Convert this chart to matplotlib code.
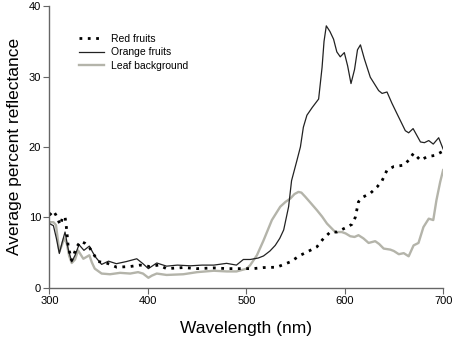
import numpy as np
import matplotlib
matplotlib.use("Agg")
import matplotlib.pyplot as plt

plt.rcParams['font.family'] = ['Liberation Sans', 'DejaVu Sans']

# ---- data ----
orange_nm = [300, 304, 307, 310, 313, 315.8, 319, 322.6, 326, 330, 335, 340.5, 344, 347, 353,
             360, 368, 378, 388.7, 395, 400.5, 409, 419, 430, 443, 455, 467, 480, 490,
             497, 504, 512, 517.5, 524, 529.4, 534, 538, 543, 546, 551.5, 555, 558,
             561.6, 567, 573.5, 577, 579, 581.3, 585, 588.7, 592, 595.5, 599.6, 603,
             606.4, 610, 613, 616, 620, 626, 634.5, 638, 643, 648, 653.2, 661.6, 665,
             669.5, 677, 681, 685.4, 690, 695.5, 700]
orange_val = [9.1, 8.8, 7.0, 4.85, 6.5, 7.9, 5.5, 3.66, 4.6, 6.1, 5.3, 5.9, 5.0, 4.3, 3.3,
              3.76, 3.4, 3.7, 4.1, 3.4, 2.7, 3.5, 3.05, 3.2, 3.1, 3.2, 3.2, 3.45, 3.2,
              4.0, 4.0, 4.2, 4.5, 5.2, 6.0, 7.0, 8.2, 11.5, 15.2, 18.1, 20.0, 22.8,
              24.5, 25.6, 26.8, 31.3, 35.0, 37.2, 36.4, 35.3, 33.5, 32.8, 33.4, 31.5,
              29.0, 31.0, 33.8, 34.5, 32.5, 29.9, 28.0, 27.6, 27.8, 26.2, 24.7, 22.3, 22.0,
              22.6, 20.7, 20.6, 20.9, 20.4, 21.3, 19.7]

red_nm = [300, 304, 306.6, 311, 313.4, 315.8, 317.5, 319, 322.6, 327.7, 331.7, 336, 341,
          349.6, 358, 368.4, 382, 392, 402, 410.7, 419, 436, 450, 467, 480.6, 494, 507,
          517.5, 531, 544.7, 555, 565, 571.8, 578.5, 585.4, 592, 602.3, 607.4, 610.8,
          614, 619, 626, 632.9, 638, 643, 649.8, 660, 665, 670, 677, 683.7, 692, 700]
red_val = [10.3, 10.9, 10.3, 8.9, 10.0, 10.1, 8.2, 5.8, 3.9, 5.8, 6.6, 6.3, 5.6,
           3.7, 3.5, 2.9, 3.0, 3.2, 3.0, 3.2, 2.7, 2.85, 2.7, 2.8, 2.7, 2.7, 2.7,
           2.85, 2.9, 3.66, 4.6, 5.3, 5.8, 7.0, 7.9, 7.9, 8.6, 9.0, 10.0,
           12.2, 12.9, 13.4, 14.3, 15.2, 16.7, 17.2, 17.4, 18.1, 19.1, 18.1, 18.6, 18.8, 19.4]

leaf_nm = [300, 304, 306.6, 310, 312.5, 314.8, 317.5, 320, 322.6, 326, 329, 334.4, 340.5,
           343, 346, 353, 361.5, 371.7, 382, 390, 395, 400.5, 404, 409, 419, 436, 450,
           467, 480, 490, 500.6, 504, 510.8, 517.5, 526, 534.5, 540, 544.7, 549, 553,
           556, 560, 565, 571.8, 577, 582, 590.4, 597, 601, 605.7, 610, 614, 619, 624.3,
           631, 635, 639.6, 646.4, 650, 655, 660, 665, 670, 675, 680, 685.4, 690,
           693.2, 697, 700]
leaf_val = [9.3, 9.3, 8.9, 5.1, 6.0, 7.0, 6.3, 4.5, 3.5, 4.0, 5.3, 4.1, 4.6,
            3.6, 2.7, 2.0, 1.9, 2.1, 2.0, 2.2, 2.0, 1.4, 1.7, 2.0, 1.8, 1.9, 2.2,
            2.4, 2.3, 2.3, 2.7, 3.2, 4.6, 6.7, 9.6, 11.5, 12.2, 12.65, 13.3, 13.6,
            13.5, 12.9, 12.1, 11.0, 10.1, 9.1, 7.9, 7.9, 7.7, 7.3, 7.2, 7.45, 7.0, 6.35,
            6.6, 6.2, 5.55, 5.4, 5.2, 4.75, 4.9, 4.45, 6.0, 6.35, 8.6, 9.8, 9.6,
            12.4, 15.0, 16.7]

fig = plt.figure(figsize=(4.54, 3.42), dpi=100)
ax = fig.add_axes([0.109, 0.159, 0.867, 0.823])

ax.plot(leaf_nm, leaf_val, color='#b4b4aa', lw=1.7, label='Leaf background')
ax.plot(orange_nm, orange_val, color='#222222', lw=0.9, label='Orange fruits')
ax.plot(red_nm, red_val, color='black', lw=2.0, linestyle=(0, (1, 2)), label='Red fruits')

ax.set_xlim(300, 700)
ax.set_ylim(0, 40)
ax.set_xticks([300, 400, 500, 600, 700])
ax.set_yticks([0, 10, 20, 30, 40])

for s in ['top', 'right']:
    ax.spines[s].set_visible(False)
for s in ['left', 'bottom']:
    ax.spines[s].set_color('#666666')
    ax.spines[s].set_linewidth(1.0)
ax.tick_params(direction='out', length=4, color='#666666', labelsize=8, pad=2)

ax.set_xlabel('Wavelength (nm)', fontsize=12.5, labelpad=11)
ax.set_ylabel('Average percent reflectance', fontsize=12.5, labelpad=5)

h, l = ax.get_legend_handles_labels()
order = [2, 1, 0]
ax.legend([h[i] for i in order], [l[i] for i in order], loc='upper left',
          bbox_to_anchor=(0.05, 0.935), frameon=False, fontsize=7.5,
          handlelength=2.4, handletextpad=0.7, labelspacing=0.35)

fig.savefig('out.png', dpi=100)
